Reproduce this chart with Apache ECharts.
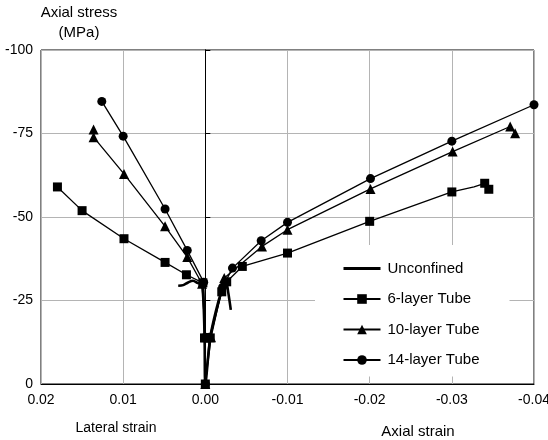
<!DOCTYPE html>
<html>
<head>
<meta charset="utf-8">
<script src="https://cdn.jsdelivr.net/npm/echarts@6/dist/echarts.min.js"></script>
<style>
  html, body { margin: 0; padding: 0; background: #fff; }
  #chart { width: 548px; height: 440px; }
</style>
</head>
<body>
<div id="chart"></div>
<script>
// Strain (lateral positive, axial negative) vs axial stress (MPa, compression negative).
// Each curve runs from the top of its lateral branch, down to the origin, and up its axial branch.

const xTickValues = [0.02, 0.01, 0.00, -0.01, -0.02, -0.03, -0.04];
const yTickValues = [-100, -75, -50, -25, 0];

const seriesNames = ['Unconfined', '6-layer Tube', '10-layer Tube', '14-layer Tube'];

const unconfined = [
  [0.0033, -29.4], [0.0027, -29.6], [0.0021, -30.4], [0.0015, -30.9], [0.0009, -30.2],
  [0.0004, -29.9], [0.0001, -15.0], [0.0000, 0.0],
  [-0.0006, -14.0], [-0.0013, -22.0], [-0.0020, -28.0], [-0.0025, -30.9],
  [-0.0028, -27.2], [-0.0031, -22.2]
];

const sixLayer = [
  [0.0180, -59.0], [0.0150, -51.9], [0.0099, -43.5], [0.0049, -36.4], [0.0023, -32.7],
  [0.0003, -30.3], [0.0001, -13.8], [0.0000, 0.0],
  [-0.0006, -13.8], [-0.0020, -27.6], [-0.0026, -30.6], [-0.0045, -35.2], [-0.0100, -39.2],
  [-0.0200, -48.7], [-0.0300, -57.5], [-0.0327, -59.0], [-0.0340, -60.1], [-0.0345, -58.3]
];
// points on the 6-layer curve drawn without a marker
const sixLayerCurveOnly = [15];

const tenLayer = [
  [0.0136, -76.2], [0.0136, -73.9], [0.0099, -62.9], [0.0049, -47.2], [0.0022, -38.0],
  [0.0004, -30.0], [0.0000, -14.0], [0.0000, 0.0],
  [-0.0007, -14.0], [-0.0023, -31.7], [-0.0069, -41.2], [-0.0100, -46.2],
  [-0.0201, -58.4], [-0.0301, -69.6], [-0.0371, -77.1], [-0.0377, -75.1]
];

const fourteenLayer = [
  [0.0126, -84.6], [0.0100, -74.2], [0.0049, -52.4], [0.0022, -40.0], [0.0002, -30.5],
  [0.0000, -14.0], [0.0000, 0.0],
  [-0.0005, -14.0], [-0.0021, -29.0], [-0.0033, -34.7], [-0.0068, -42.9], [-0.0100, -48.4],
  [-0.0201, -61.5], [-0.0300, -72.7], [-0.0400, -83.6]
];

const FONT = '"Liberation Sans", Arial, Helvetica, sans-serif';

function toItems(points, curveOnly) {
  return points.map((p, i) =>
    (curveOnly && curveOnly.indexOf(i) >= 0) ? { value: p, symbol: 'none' } : { value: p });
}

function tubeSeries(name, points, symbol, size, curveOnly) {
  return {
    name: name,
    type: 'line',
    data: toItems(points, curveOnly),
    symbol: symbol,
    symbolSize: size,
    showAllSymbol: true,
    clip: false,
    itemStyle: { color: '#000' },
    lineStyle: { color: '#000', width: 1.3 },
    emphasis: { disabled: true },
    animation: false
  };
}

function caption(text, x, y, size) {
  return {
    type: 'text', x: x, y: y,
    style: { text: text, fill: '#000', font: size + 'px ' + FONT, align: 'center', verticalAlign: 'middle' }
  };
}

const chart = echarts.init(document.getElementById('chart'), null, { renderer: 'canvas' });

chart.setOption({
  backgroundColor: '#fff',
  animation: false,
  textStyle: { fontFamily: FONT },
  grid: {
    left: 41, right: 14, top: 50, bottom: 56,
    outerBoundsMode: 'none',
    containLabel: false,
    show: true, borderColor: '#000', borderWidth: 1, backgroundColor: 'transparent'
  },
  xAxis: {
    type: 'value',
    inverse: true,
    min: -0.04, max: 0.02, interval: 0.01,
    axisLine: { show: true, lineStyle: { color: '#000', width: 1 } },
    axisTick: { show: false },
    axisLabel: {
      color: '#000', fontSize: 14, fontFamily: FONT, margin: 9,
      formatter: v => {
        const r = Math.round(v * 100) / 100;
        const hit = xTickValues.find(t => Math.abs(t - r) < 1e-9);
        return (Math.abs(r) < 1e-9 ? 0 : hit).toFixed(2);
      }
    },
    splitLine: { show: true, lineStyle: { color: '#b4b4b4', width: 1 } }
  },
  yAxis: [{
    type: 'value',
    inverse: true,
    min: -100, max: 0, interval: 25,
    axisLine: { show: true, lineStyle: { color: '#000', width: 1 } },
    axisTick: { show: false },
    axisLabel: {
      color: '#000', fontSize: 14, fontFamily: FONT, margin: 8,
      formatter: v => String(yTickValues.find(t => Math.abs(t - v) < 1e-6))
    },
    splitLine: { show: true, lineStyle: { color: '#b4b4b4', width: 1 } }
  }, {
    // zero-strain divider between lateral and axial strain
    type: 'value',
    inverse: true,
    position: 'left',
    offset: -164.33,
    min: -100, max: 0, interval: 25,
    axisLine: { show: true, onZero: false, lineStyle: { color: '#000', width: 1 } },
    axisTick: { show: true, inside: true, length: 5, lineStyle: { color: '#000' } },
    axisLabel: { show: false },
    splitLine: { show: false }
  }],
  legend: {
    data: [
      { name: seriesNames[0], itemStyle: { opacity: 0 }, lineStyle: { width: 3 } },
      { name: seriesNames[1] },
      { name: seriesNames[2] },
      { name: seriesNames[3] }
    ],
    orient: 'vertical',
    left: 315, top: 245,
    backgroundColor: '#fff',
    padding: [16, 30, 9, 27],
    itemWidth: 37, itemHeight: 12,
    itemGap: 15.5,
    textStyle: { color: '#000', fontSize: 15, fontFamily: FONT, padding: [0, 0, 0, 2] },
    selectedMode: false,
    z: 10
  },
  graphic: [
    caption('Axial stress', 79, 13, 15),
    caption('(MPa)', 79, 33, 15),
    caption('Lateral strain', 116, 428, 14),
    caption('Axial strain', 418, 432, 15)
  ],
  series: [
    {
      name: seriesNames[0],
      type: 'line',
      data: unconfined,
      symbol: 'none',
      clip: false,
      itemStyle: { color: '#000' },
      lineStyle: { color: '#000', width: 2.6 },
      smooth: 0.3,
      emphasis: { disabled: true },
      animation: false
    },
    tubeSeries(seriesNames[1], sixLayer, 'rect', 9, sixLayerCurveOnly),
    tubeSeries(seriesNames[2], tenLayer, 'triangle', 10, null),
    tubeSeries(seriesNames[3], fourteenLayer, 'circle', 9, null)
  ]
});
</script>
</body>
</html>
